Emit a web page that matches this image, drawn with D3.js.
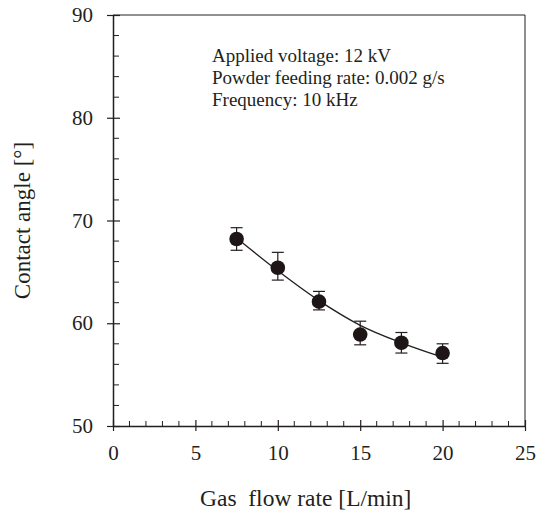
<!DOCTYPE html>
<html>
<head>
<meta charset="utf-8">
<script src="https://cdn.jsdelivr.net/npm/d3@7"></script>
<style>
  body { margin: 0; background: #fff; }
  svg text { font-family: "Liberation Serif", "Times New Roman", serif; fill: #231f20; }
</style>
</head>
<body>
<div id="chart"></div>
<script>
// measured points
const gasFlow = [7.5, 10, 12.5, 15, 17.5, 20];
const contactAngle = [68.2, 65.4, 62.1, 58.9, 58.1, 57.1];
const errUpper = [69.3, 66.9, 63.1, 60.2, 59.1, 58.0];
const errLower = [67.1, 64.2, 61.3, 57.9, 57.1, 56.1];

// fitted trend line
const fitX = [7.5, 10, 12.5, 15, 17.5, 20];
const fitY = [68.3, 65.1, 62.2, 59.8, 58.1, 56.7];

const xTicks = [0, 5, 10, 15, 20, 25];
const yTicks = [50, 60, 70, 80, 90];
const notes = ["Applied voltage: 12 kV", "Powder feeding rate: 0.002 g/s", "Frequency: 10 kHz"];

const width = 539, height = 513;
const margin = { top: 15, right: 14, bottom: 87, left: 113 };
const innerWidth = width - margin.left - margin.right,
      innerHeight = height - margin.top - margin.bottom;

const svg = d3.select("#chart").append("svg")
    .attr("width", width)
    .attr("height", height);

const g = svg.append("g")
    .attr("transform", "translate(" + margin.left + "," + margin.top + ")");

const xScale = d3.scaleLinear().domain([0, 25]).range([0, innerWidth]);
const yScale = d3.scaleLinear().domain([50, 90]).range([innerHeight, 0]);

// frame (top + right)
g.append("path")
    .attr("fill", "none")
    .attr("stroke", "#231f20")
    .attr("stroke-width", 1)
    .attr("d", `M0,0H${innerWidth}V${innerHeight}`);

// minor ticks, pointing inward
const xMinor = d3.range(0, 25.01, 1).filter(v => v % 5 !== 0);
const yMinor = d3.range(50, 90.01, 2).filter(v => v % 10 !== 0);

g.selectAll(".xminor").data(xMinor).enter().append("line")
    .attr("x1", d => xScale(d)).attr("x2", d => xScale(d))
    .attr("y1", innerHeight).attr("y2", innerHeight - 5)
    .attr("stroke", "#231f20");

g.selectAll(".yminor").data(yMinor).enter().append("line")
    .attr("x1", 0).attr("x2", 6)
    .attr("y1", d => yScale(d)).attr("y2", d => yScale(d))
    .attr("stroke", "#231f20");

// axes, major ticks cross the axis line
const xAxis = g.append("g")
    .attr("transform", "translate(0," + innerHeight + ")")
    .call(d3.axisBottom(xScale).tickValues(xTicks).tickSizeInner(5).tickSizeOuter(0).tickPadding(14));
xAxis.selectAll(".tick line").attr("y1", -6).attr("y2", 5);

const yAxis = g.append("g")
    .call(d3.axisLeft(yScale).tickValues(yTicks).tickSizeInner(6).tickSizeOuter(0).tickPadding(14));
yAxis.selectAll(".tick line").attr("x1", 7).attr("x2", -6);

[xAxis, yAxis].forEach(a => {
    a.attr("font-family", null).attr("font-size", null);
    a.select(".domain").attr("stroke", "#231f20").attr("stroke-width", 1.5);
    a.selectAll(".tick line").attr("stroke", "#231f20").attr("stroke-width", 1.2);
    a.selectAll("text")
        .style("font-size", "21px")
        .attr("fill", "#231f20");
});

// axis titles
svg.append("text")
    .attr("x", 200)
    .attr("y", 506)
    .style("font-size", "23.5px")
    .style("white-space", "pre")
    .text("Gas  flow rate [L/min]");

svg.append("text")
    .attr("transform", `translate(30, ${margin.top + innerHeight / 2}) rotate(-90)`)
    .attr("text-anchor", "middle")
    .style("font-size", "23px")
    .text("Contact angle [°]");

// conditions note
g.selectAll(".note").data(notes).enter().append("text")
    .attr("x", 99)
    .attr("y", (d, i) => 47 + i * 22)
    .style("font-size", "19px")
    .text(d => d);

// fit line
const fitLine = d3.line()
    .x(d => xScale(d[0]))
    .y(d => yScale(d[1]))
    .curve(d3.curveMonotoneX);

g.append("path")
    .attr("fill", "none")
    .attr("stroke", "#231f20")
    .attr("stroke-width", 1.3)
    .attr("d", fitLine(fitX.map((x, i) => [x, fitY[i]])));

// error bars
const pts = gasFlow.map((x, i) => ({ x: x, y: contactAngle[i], hi: errUpper[i], lo: errLower[i] }));
const eb = g.selectAll(".err").data(pts).enter().append("g")
    .attr("stroke", "#231f20")
    .attr("stroke-width", 1.2);
eb.append("line")
    .attr("x1", d => xScale(d.x)).attr("x2", d => xScale(d.x))
    .attr("y1", d => yScale(d.hi)).attr("y2", d => yScale(d.lo));
eb.append("line")
    .attr("x1", d => xScale(d.x) - 6).attr("x2", d => xScale(d.x) + 6)
    .attr("y1", d => yScale(d.hi)).attr("y2", d => yScale(d.hi));
eb.append("line")
    .attr("x1", d => xScale(d.x) - 6).attr("x2", d => xScale(d.x) + 6)
    .attr("y1", d => yScale(d.lo)).attr("y2", d => yScale(d.lo));

// markers
g.selectAll(".dot").data(pts).enter().append("circle")
    .attr("cx", d => xScale(d.x))
    .attr("cy", d => yScale(d.y))
    .attr("r", 7.3)
    .attr("fill", "#1e1516");
</script>
</body>
</html>
